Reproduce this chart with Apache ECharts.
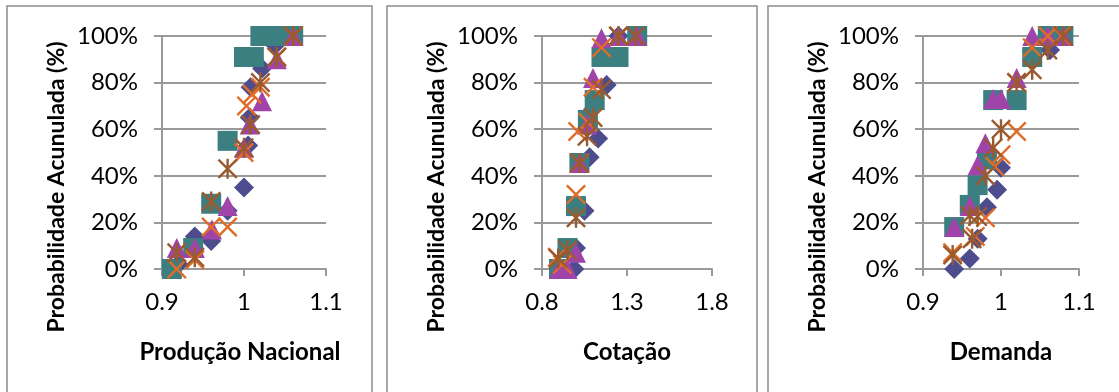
<!DOCTYPE html>
<html><head><meta charset="utf-8">
<script src="https://cdn.jsdelivr.net/npm/echarts@6/dist/echarts.min.js"></script>
<style>html,body{margin:0;padding:0;background:#fff}#c{width:1119px;height:392px}</style>
</head><body><div id="c"></div>
<script>
// ---- axis ticks ----
const yTicks = [0, 0.2, 0.4, 0.6, 0.8, 1.0];
const prodTicks = [0.9, 1.0, 1.1];
const prodTickLabels = ['0.9', '1', '1.1'];
const cotTicks = [0.8, 1.3, 1.8];
const cotTickLabels = ['0.8', '1.3', '1.8'];
const demTicks = [0.9, 1.0, 1.1];
const demTickLabels = ['0.9', '1', '1.1'];
const axisTitlesX = ['Produção Nacional', 'Cotação', 'Demanda'];
const axisTitleY = 'Probabilidade Acunulada (%)';

// ---- Produção Nacional ----
const prodDiamond = [[0.92,0.02],[0.94,0.14],[0.96,0.12],[0.98,0.25],[1.0,0.35],[1.005,0.53],[1.007,0.65],[1.008,0.78],[1.022,0.86],[1.038,0.96],[1.06,1.0]];
const prodSquare = [[0.912,0.0],[0.938,0.09],[0.96,0.28],[0.98,0.55],[1.0,0.91],[1.012,0.91],[1.02,1.0],[1.04,1.0],[1.06,1.0]];
const prodTriangle = [[0.918,0.09],[0.94,0.09],[0.961,0.17],[0.98,0.27],[1.0,0.52],[1.007,0.62],[1.022,0.72],[1.04,0.9],[1.06,1.0]];
const prodX = [[0.918,0.0],[0.94,0.04],[0.96,0.18],[0.98,0.18],[1.0,0.5],[1.003,0.70],[1.01,0.75],[1.02,0.78],[1.04,0.91],[1.06,1.0]];
const prodStar = [[0.918,0.07],[0.94,0.05],[0.96,0.29],[0.98,0.43],[1.0,0.52],[1.008,0.62],[1.02,0.80],[1.04,0.91],[1.06,1.0]];

// ---- Cotação ----
const cotDiamond = [[0.99,0.0],[1.0,0.09],[1.05,0.25],[1.08,0.48],[1.13,0.56],[1.18,0.79],[1.25,1.0],[1.36,1.0]];
const cotSquare = [[0.9,0.0],[0.95,0.09],[1.0,0.27],[1.02,0.455],[1.07,0.64],[1.11,0.725],[1.15,0.91],[1.25,0.91],[1.36,1.0]];
const cotTriangle = [[0.9,0.0],[0.95,0.0],[1.0,0.07],[1.02,0.455],[1.065,0.62],[1.1,0.82],[1.15,0.99],[1.25,1.0],[1.36,1.0]];
const cotX = [[0.89,0.05],[0.92,0.02],[1.0,0.32],[1.02,0.455],[1.01,0.59],[1.07,0.63],[1.1,0.78],[1.15,0.95],[1.25,1.0]];
const cotStar = [[0.895,0.045],[0.95,0.08],[1.0,0.22],[1.02,0.455],[1.065,0.57],[1.1,0.65],[1.15,0.77],[1.25,1.0],[1.35,1.0]];

// ---- Demanda ----
const demDiamond = [[0.94,0.0],[0.96,0.045],[0.97,0.13],[0.982,0.265],[0.995,0.34],[1.0,0.435],[1.063,0.94],[1.08,1.0]];
const demSquare = [[0.94,0.18],[0.96,0.275],[0.97,0.36],[0.982,0.47],[0.99,0.725],[1.02,0.725],[1.04,0.91],[1.06,1.0],[1.08,1.0]];
const demTriangle = [[0.94,0.18],[0.96,0.27],[0.97,0.445],[0.98,0.54],[0.99,0.73],[1.0,0.73],[1.02,0.82],[1.04,1.0],[1.06,1.0],[1.08,1.0]];
const demX = [[0.938,0.07],[0.967,0.14],[0.98,0.22],[0.992,0.44],[1.0,0.49],[1.02,0.59],[1.02,0.80],[1.04,0.95],[1.06,1.0],[1.078,1.0]];
const demStar = [[0.938,0.06],[0.963,0.13],[0.96,0.23],[0.97,0.225],[0.98,0.40],[0.99,0.52],[1.0,0.60],[1.02,0.80],[1.04,0.855],[1.06,0.94],[1.08,1.0]];

// ---- styling ----
const FONT = 'Lato, "Open Sans", sans-serif';
const GRAY = '#9a9a9a';
const colors = { diamond: '#4d4d8e', square: '#3b7f81', triangle: '#a044aa', x: '#e06c28', star: '#9a5a30' };
const X_PATH = 'path://M8.5,0L50,41.5L91.5,0L100,8.5L58.5,50L100,91.5L91.5,100L50,58.5L8.5,100L0,91.5L41.5,50L0,8.5Z';
const STAR_PATH = 'path://M8.5,0L50,41.5L91.5,0L100,8.5L58.5,50L100,91.5L91.5,100L50,58.5L8.5,100L0,91.5L41.5,50L0,8.5Z M44,0L56,0L56,100L44,100Z';

const grids = [
  { left: 162, top: 36, width: 164, height: 233 },
  { left: 542, top: 36, width: 170, height: 233 },
  { left: 923, top: 36, width: 156, height: 233 }
];
const xDefs = [
  { min: 0.9, max: 1.1, ticks: prodTicks, labels: prodTickLabels },
  { min: 0.8, max: 1.8, ticks: cotTicks, labels: cotTickLabels },
  { min: 0.9, max: 1.1, ticks: demTicks, labels: demTickLabels }
];
const panels = [
  [prodDiamond, prodSquare, prodTriangle, prodX, prodStar],
  [cotDiamond, cotSquare, cotTriangle, cotX, cotStar],
  [demDiamond, demSquare, demTriangle, demX, demStar]
];
const symbolDefs = [
  { symbol: 'diamond', color: colors.diamond },
  { symbol: 'rect', color: colors.square },
  { symbol: 'triangle', color: colors.triangle },
  { symbol: X_PATH, color: colors.x },
  { symbol: STAR_PATH, color: colors.star }
];

const xAxis = xDefs.map((d, i) => ({
  type: 'value', gridIndex: i, min: d.min, max: d.max,
  axisLine: { show: true, onZero: false, lineStyle: { color: GRAY, width: 2 } },
  axisTick: { show: true, length: 7, customValues: d.ticks, lineStyle: { color: GRAY, width: 2 } },
  axisLabel: {
    customValues: d.ticks, margin: 21, color: '#000', fontFamily: FONT, fontSize: 24,
    formatter: v => { const k = d.ticks.findIndex(t => Math.abs(t - v) < 1e-9); return k >= 0 ? d.labels[k] : ''; }
  },
  splitLine: { show: false }
}));
const yAxis = grids.map((g, i) => ({
  type: 'value', gridIndex: i, min: 0, max: 1, interval: 0.2,
  axisLine: { show: true, lineStyle: { color: GRAY, width: 2 } },
  axisTick: { show: true, length: 8, lineStyle: { color: GRAY, width: 2 } },
  axisLabel: { margin: 24, color: '#000', fontFamily: FONT, fontSize: 24, formatter: v => Math.round(v * 100) + '%' },
  splitLine: { show: true, lineStyle: { color: GRAY, width: 2 } }
}));

const series = [];
panels.forEach((sets, pi) => {
  sets.forEach((data, si) => {
    series.push({
      type: 'scatter', xAxisIndex: pi, yAxisIndex: pi, data: data,
      symbol: symbolDefs[si].symbol, symbolSize: 20,
      itemStyle: { color: symbolDefs[si].color, opacity: 1 },
      z: 2 + si
    });
  });
});

const borders = [[7, 6, 365, 400], [387, 6, 370, 400], [768, 6, 370, 400]];
const yTitleX = [57, 437, 818];
const xTitleX = [240, 627, 1001];
const graphic = [];
borders.forEach(b => graphic.push({ type: 'rect', shape: { x: b[0], y: b[1], width: b[2], height: b[3] }, style: { fill: 'none', stroke: '#8c8c8c', lineWidth: 1.5 }, z: -1 }));
yTitleX.forEach(x => graphic.push({ type: 'text', x: x, y: 187, rotation: Math.PI / 2, style: { text: axisTitleY, fill: '#000', font: 'bold 23px ' + FONT, align: 'center', verticalAlign: 'middle' } }));
xTitleX.forEach((x, i) => graphic.push({ type: 'text', x: x, y: 352, style: { text: axisTitlesX[i], fill: '#000', font: 'bold 24px ' + FONT, align: 'center', verticalAlign: 'middle' } }));

const chart = echarts.init(document.getElementById('c'), null, { renderer: 'canvas' });
chart.setOption({ animation: false, grid: grids, xAxis: xAxis, yAxis: yAxis, series: series, graphic: graphic });
</script></body></html>
